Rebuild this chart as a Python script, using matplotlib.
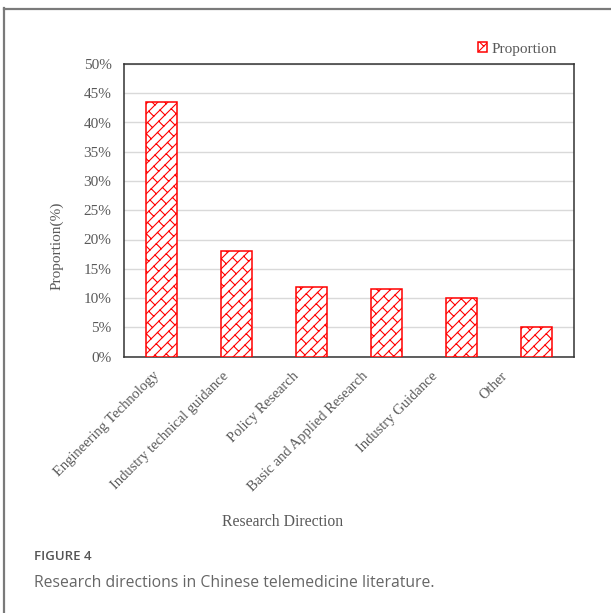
import numpy as np
import matplotlib
matplotlib.use('Agg')
import matplotlib.pyplot as plt
import matplotlib.hatch as mhatch
from matplotlib.path import Path
from matplotlib.lines import Line2D
from matplotlib.ticker import FuncFormatter

directions = ['Engineering Technology', 'Industry technical guidance', 'Policy Research',
              'Basic and Applied Research', 'Industry Guidance', 'Other']
proportion = [43.5, 18.0, 11.9, 11.6, 10.0, 5.0]  # %
y_ticks = list(range(0, 51, 5))


# diagonal brick fill, used in place of the plain '/' hatch
class BrickHatch(mhatch.HatchPatternBase):
    rows = 10    # diagonals per hatch cell
    bricks = 8   # joints per diagonal per cell (rows - bricks must stay even)

    def __init__(self, hatch, density):
        self.segs = []
        if '/' in hatch:
            m, q = self.rows, self.bricks
            step = 0.5 / m  # shift along x when crossing one row
            for k in range(-m - 1, m + 1):
                c = k / m
                self.segs.append([(-1.0, -1.0 + c), (2.0, 2.0 + c)])
                # stagger joints by half a brick relative to the row below
                base = 0.5 * k / q - k * step
                for j in range(-2 * q, 3 * q + 1):
                    t = j / q + base
                    if -0.3 < t < 1.3:
                        self.segs.append([(t, t + c), (t - step, t + c + step)])
        self.num_vertices = 2 * len(self.segs)

    def set_vertices_and_codes(self, vertices, codes):
        vertices[:] = np.array(self.segs).reshape(-1, 2)
        codes[0::2] = Path.MOVETO
        codes[1::2] = Path.LINETO


mhatch._hatch_types[mhatch._hatch_types.index(mhatch.NorthEastHatch)] = BrickHatch

plt.rcParams['font.family'] = ['Liberation Serif', 'DejaVu Serif']
plt.rcParams['hatch.linewidth'] = 0.8
grey = '#595959'

fig = plt.figure(figsize=(6.11, 6.13), dpi=100)
ax = fig.add_axes([124 / 611, 1 - 356.5 / 613, 450 / 611, 292.5 / 613])

x = np.arange(len(directions))
ax.bar(x, proportion, width=0.41, color='white', edgecolor='#ff0000', linewidth=1.1,
       hatch='/', label='Proportion', zorder=3)

ax.set_xlim(-0.5, len(directions) - 0.5)
ax.set_ylim(0, 50)
ax.set_yticks(y_ticks)
ax.yaxis.set_major_formatter(FuncFormatter(lambda v, p: f'{v:.0f}%'))
ax.grid(axis='y', color='#d9d9d9', linewidth=1)
ax.set_axisbelow(True)
for s in ax.spines.values():
    s.set_color('#333333')
    s.set_linewidth(1.1)

# category labels sit slightly left of the bars, drifting with the index
ax.set_xticks(x * 0.93 - 0.06)
ax.set_xticklabels(directions, rotation=45, ha='right', va='center', rotation_mode='anchor')
ax.tick_params(length=0, colors=grey, labelsize=11)
ax.tick_params(axis='x', labelsize=10.5, pad=12.5)
ax.tick_params(axis='y', pad=9)

ax.legend(loc='center left', bbox_to_anchor=(478 / 611, 1 - 49 / 613),
          bbox_transform=fig.transFigure, frameon=False, handlelength=0.6,
          handleheight=0.6, handletextpad=0.3, fontsize=11, labelcolor=grey,
          borderpad=0, borderaxespad=0)

fig.text(57 / 611, 1 - 246 / 613, 'Proportion(%)', rotation=90, ha='center',
         va='center', fontsize=11, color=grey)
fig.text(283 / 611, 1 - 522 / 613, 'Research Direction', ha='center', va='center',
         fontsize=11.3, color=grey)

# caption block
fig.text(34 / 611, 1 - 557 / 613, 'FIGURE 4', family='Open Sans', fontweight='semibold',
         fontsize=9.5, color='#555555', va='center')
fig.text(34 / 611, 1 - 583 / 613, 'Research directions in Chinese telemedicine literature.',
         family='Open Sans', fontsize=11.3, color='#666666', va='center')

# page frame
fig.add_artist(Line2D([4 / 611, 4 / 611], [0, 1 - 8 / 613], transform=fig.transFigure,
                      color='#7a7a7a', lw=1.6))
fig.add_artist(Line2D([4 / 611, 1], [1 - 8.5 / 613, 1 - 8.5 / 613], transform=fig.transFigure,
                      color='#7a7a7a', lw=1.6))

fig.savefig('out.png', dpi=100)
